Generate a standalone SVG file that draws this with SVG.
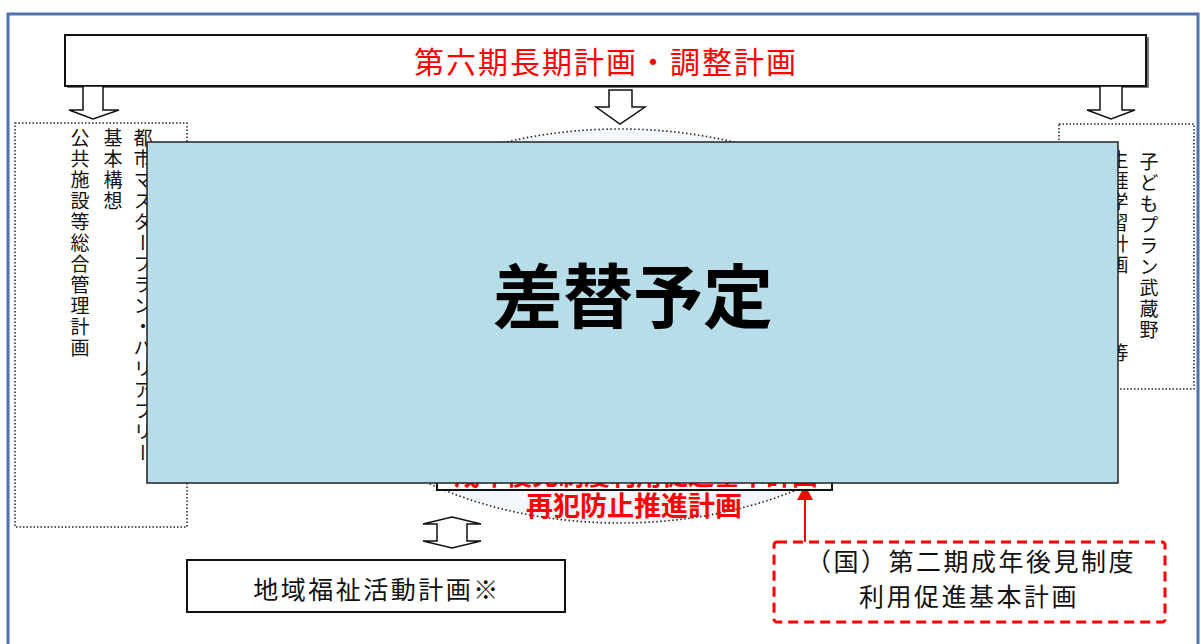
<svg xmlns="http://www.w3.org/2000/svg" width="1201" height="644" viewBox="0 0 1201 644">
<style>
.jp{font-family:"Noto Sans CJK JP","Noto Sans",sans-serif;}
.vt{writing-mode:vertical-rl;font-size:19px;letter-spacing:2px;fill:#111;}
.dot{fill:none;stroke:#222;stroke-width:1.5;stroke-dasharray:1.5 2;}
.hollow{fill:#fff;stroke:#111;stroke-width:1.5;stroke-linejoin:miter;}
.red{fill:#ff0000;}
.box{fill:#fff;stroke:#111;stroke-width:2;}
</style>
<rect x="0" y="0" width="1201" height="644" fill="#fff"/>
<rect id="frame" x="8" y="14" width="1190" height="660" fill="none" stroke="#4f73a8" stroke-width="3"/>

<g id="top-plan">
<rect x="67" y="37" width="1082" height="51" fill="#777"/>
<rect x="65" y="35" width="1081" height="51" class="box"/>
<text x="606" y="73" class="jp red" font-size="30" text-anchor="middle" letter-spacing="2">第六期長期計画・調整計画</text>
</g>

<g id="connectors">
<path class="hollow" d="M83,86 L103,86 L103,110 L119,110 L93,119 L69,110 L83,110 Z"/>
<path class="hollow" d="M609,90 L632,90 L632,107 L645,107 L620,124 L596,107 L609,107 Z"/>
<path class="hollow" d="M1100,86 L1122,86 L1122,110 L1135,110 L1111,119 L1087,110 L1100,110 Z"/>
<path class="hollow" d="M452,517 L481,524 L467,524 L467,541 L481,541 L452,548 L423,541 L437,541 L437,524 L423,524 Z"/>
<line x1="805" y1="542" x2="805" y2="499" stroke="#ff0000" stroke-width="2"/>
<polygon points="797,500 813,500 805,485" fill="#ff0000"/>
</g>

<g id="left-plans">
<rect x="15" y="123" width="172" height="404" class="dot"/>
<text x="143" y="128" class="jp vt">都市マスタープラン・バリアフリー</text>
<text x="113" y="128" class="jp vt">基本構想</text>
<text x="80" y="128" class="jp vt">公共施設等総合管理計画</text>
</g>

<g id="right-plans">
<rect x="1059" y="124" width="135" height="265" class="dot"/>
<text x="1149" y="152" class="jp vt">子どもプラン武蔵野</text>
<text x="1119" y="150" class="jp vt">生涯学習計画</text>
<text x="1119" y="343" class="jp vt">等</text>
</g>

<g id="center-plan">
<ellipse cx="620" cy="326" rx="318" ry="197" fill="#f3f6fb" stroke="#222" stroke-width="1.6" stroke-dasharray="1.5 2.5"/>
<rect x="437" y="440" width="395" height="50" class="box"/>
<text x="636" y="485" class="jp red" font-size="26" font-weight="bold" text-anchor="middle">成年後見制度利用促進基本計画</text>
<text x="634" y="516" class="jp red" font-size="27" font-weight="bold" text-anchor="middle">再犯防止推進計画</text>
</g>

<g id="placeholder">
<rect x="147" y="142" width="971" height="341" fill="#b7dde8" stroke="#222" stroke-width="1.5"/>
<text x="633" y="323" class="jp" font-size="70" font-weight="bold" text-anchor="middle" fill="#000">差替予定</text>
</g>

<g id="community">
<rect x="187" y="560" width="378" height="52" class="box"/>
<text x="377" y="599" class="jp" font-size="25" letter-spacing="2.5" text-anchor="middle" fill="#111">地域福祉活動計画※</text>
</g>

<g id="national-plan">
<rect x="774" y="542" width="391" height="80" rx="3" fill="#fff" stroke="#ff0000" stroke-width="3" stroke-dasharray="10 6"/>
<text x="971" y="571" class="jp" font-size="25" letter-spacing="2.5" text-anchor="middle" fill="#111">（国）第二期成年後見制度</text>
<text x="969" y="606" class="jp" font-size="25" letter-spacing="2.5" text-anchor="middle" fill="#111">利用促進基本計画</text>
</g>
</svg>
